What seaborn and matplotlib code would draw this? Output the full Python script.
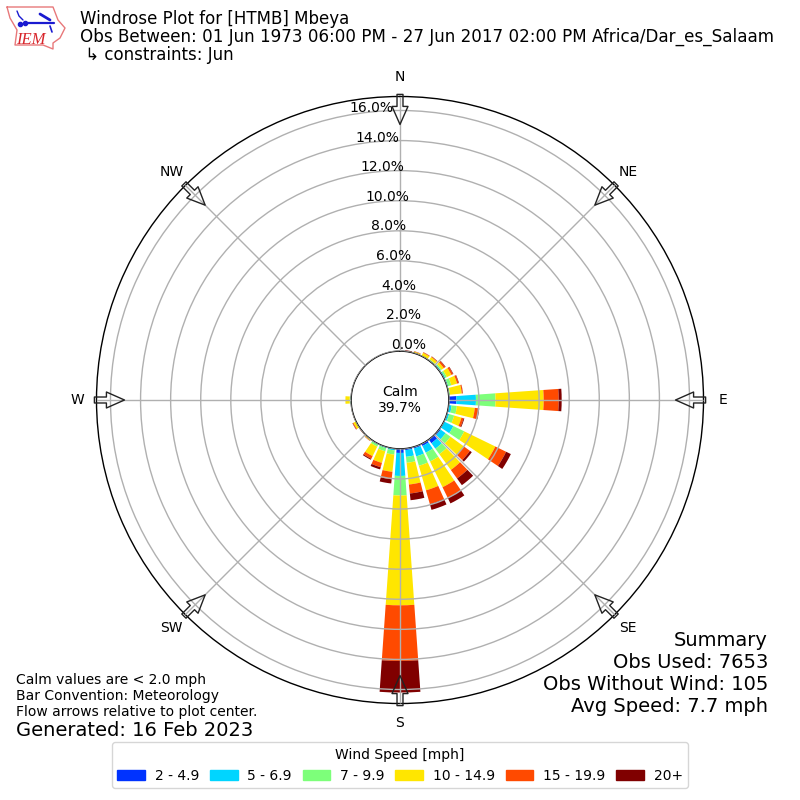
import numpy as np
import pandas as pd
import matplotlib
matplotlib.use('Agg')
import matplotlib.pyplot as plt
from matplotlib.patches import Patch
import seaborn as sns

# direction the wind comes from, degrees
directions = list(range(10, 370, 10))
# cumulative frequency (%) up to the top of each speed bin
upto_5 = [0, 0, 0, 0, 0, 0, 0, 0, .5, .02, .02, 0, .1, .3, .15, .1, .1, .27, .03, 0, 0, 0, 0, 0, 0, 0, 0, 0, 0, 0, 0, 0, 0, 0, 0, 0]
upto_7 = [0, 0, 0, .05, .1, .1, .08, .02, 1.8, .2, .15, .7, .5, .75, .65, .65, .55, 1.8, .12, .08, .05, .02, 0, 0, 0, 0, .03, 0, 0, 0, 0, 0, 0, 0, 0, 0]
upto_10 = [0, .02, .04, .1, .18, .22, .3, .1, 3.1, .55, .5, 1.5, .9, 1.2, 1.3, 1.3, .95, 3.1, .4, .3, .2, .05, 0, .03, 0, .01, .1, .01, 0, 0, 0, 0, 0, 0, 0, 0]
upto_15 = [.02, .1, .24, .28, .35, .55, .7, .88, 6.3, 1.75, 1.0, 3.8, 2.0, 2.5, 3.2, 3.0, 2.4, 10.4, 1.55, 1.1, .9, .1, .03, .2, .02, .02, .38, .02, 0, 0, 0, 0, 0, 0, 0, 0]
upto_20 = [.05, .12, .28, .32, .47, .67, .8, .95, 7.3, 2.0, 1.15, 4.6, 2.5, 3.2, 4.0, 3.95, 3.0, 14.1, 2.05, 1.4, 1.1, .12, .05, .25, .03, .02, .38, .02, 0, 0, 0, 0, 0, 0, 0, 0]
upto_max = [.08, .13, .29, .34, .5, .7, .83, .96, 7.5, 2.05, 1.2, 4.95, 2.65, 3.75, 4.4, 4.35, 3.45, 16.2, 2.33, 1.55, 1.17, .13, .06, .27, .03, .02, .38, .02, 0, 0, 0, 0, 0, 0, 0, 0]

speed_labels = ['2 - 4.9', '5 - 6.9', '7 - 9.9', '10 - 14.9', '15 - 19.9', '20+']
speed_colors = ['#0033ff', '#00d5ff', '#7dff7a', '#ffe600', '#ff4a00', '#800000']
compass = ['N', 'NE', 'E', 'SE', 'S', 'SW', 'W', 'NW']
compass_deg = [0, 45, 90, 135, 180, 225, 270, 315]
rings = [0, 2, 4, 6, 8, 10, 12, 14, 16]

iowa_x = [7, 53, 58, 65, 60, 53, 53, 43, 15, 17, 10, 7]
iowa_y = [7, 7, 20, 28, 38, 43, 49, 45, 45, 30, 18, 7]

sns.set_style('white')
plt.rcParams['font.family'] = ['DejaVu Sans']
plt.rcParams['font.size'] = 10
plt.rcParams['text.color'] = 'black'
plt.rcParams['xtick.color'] = 'black'
plt.rcParams['ytick.color'] = 'black'
plt.rcParams['axes.labelcolor'] = 'black'

fig = plt.figure(figsize=(8, 8), dpi=100)
ax = fig.add_axes([96 / 800, 96.5 / 800, 608 / 800, 607 / 800], projection='polar')
ax.set_theta_zero_location('N')
ax.set_theta_direction(-1)

theta = np.deg2rad(directions)
bottom = np.zeros(len(directions))
for vals, color in zip([upto_5, upto_7, upto_10, upto_15, upto_20, upto_max], speed_colors):
    top = np.array(vals)
    part = pd.DataFrame({'theta': theta, 'freq': top - bottom})
    sns.barplot(part, x='theta', y='freq', color=color, native_scale=True, width=0.8,
                errorbar=None, saturation=1, linewidth=0, bottom=bottom, ax=ax)
    bottom = top

ax.set_xlabel('')
ax.set_ylabel('')
ax.set_rlim(0, 16.93)
ax.set_rorigin(-3.25)
ax.set_axisbelow(False)
ax.grid(True, color='#b0b0b0', linewidth=1)
ax.set_xticks(np.deg2rad(compass_deg))
ax.set_xticklabels(compass)
ax.tick_params(axis='x', pad=3.5)
ax.set_rgrids(rings, labels=['%.1f%%' % r for r in rings], angle=-10)
for spine in ax.spines.values():
    spine.set_edgecolor('black')
    spine.set_linewidth(1)

# flow arrows
for deg in compass_deg:
    ax.annotate('', xy=(np.deg2rad(deg), 15.07), xytext=(np.deg2rad(deg), 17.07),
                annotation_clip=False,
                arrowprops=dict(facecolor='none', edgecolor='#222222', linewidth=1, width=4.3,
                                headwidth=11.5, headlength=13, shrink=0))

# overlay in pixels for logo and texts
over = fig.add_axes([0, 0, 1, 1], facecolor='none')
over.set_xlim(0, 800)
over.set_ylim(800, 0)
over.axis('off')
over.plot(iowa_x, iowa_y, color='#e8787a', linewidth=1)
over.plot([25, 54], [23, 23], color='#1a1ad0', linewidth=1.6)
over.plot([17, 19, 23], [11, 16, 20], color='#1a1ad0', linewidth=1)
over.plot([40, 50], [14, 20], color='#1a1ad0', linewidth=2)
over.plot([50, 52], [26, 32], color='#1a1ad0', linewidth=1.2)
over.plot([25, 20], [23, 24], 'o', color='#1a1ad0', markersize=3)
over.text(16, 44, 'IEM', color='#d8262c', fontsize=12, family='Liberation Serif', style='italic')

over.text(80, 19, 'Windrose Plot for [HTMB] Mbeya', fontsize=12, va='center')
over.text(80, 37, 'Obs Between: 01 Jun 1973 06:00 PM - 27 Jun 2017 02:00 PM Africa/Dar_es_Salaam', fontsize=12.02, va='center')
over.text(80, 55, ' \u21b3 constraints: Jun', fontsize=12, va='center')
over.text(400, 400, 'Calm\n39.7%', ha='center', va='center', fontsize=10)

for y, line in zip([640, 662, 684, 706], ['Summary', 'Obs Used: 7653', 'Obs Without Wind: 105', 'Avg Speed: 7.7 mph']):
    over.text(768, y, line, ha='right', va='center', fontsize=14)
for y, line in zip([680, 696, 712], ['Calm values are < 2.0 mph', 'Bar Convention: Meteorology', 'Flow arrows relative to plot center.']):
    over.text(16, y, line, va='center', fontsize=10)
over.text(16, 730, 'Generated: 16 Feb 2023', va='center', fontsize=14)

handles = [Patch(color=c, label=l) for c, l in zip(speed_colors, speed_labels)]
fig.legend(handles=handles, title='Wind Speed [mph]', ncol=6, loc='lower center',
           bbox_to_anchor=(0.5, 0.006), fontsize=10, title_fontsize=10,
           handlelength=2, handleheight=0.7, columnspacing=0.77, handletextpad=0.7)

fig.savefig('out.png', dpi=100)
